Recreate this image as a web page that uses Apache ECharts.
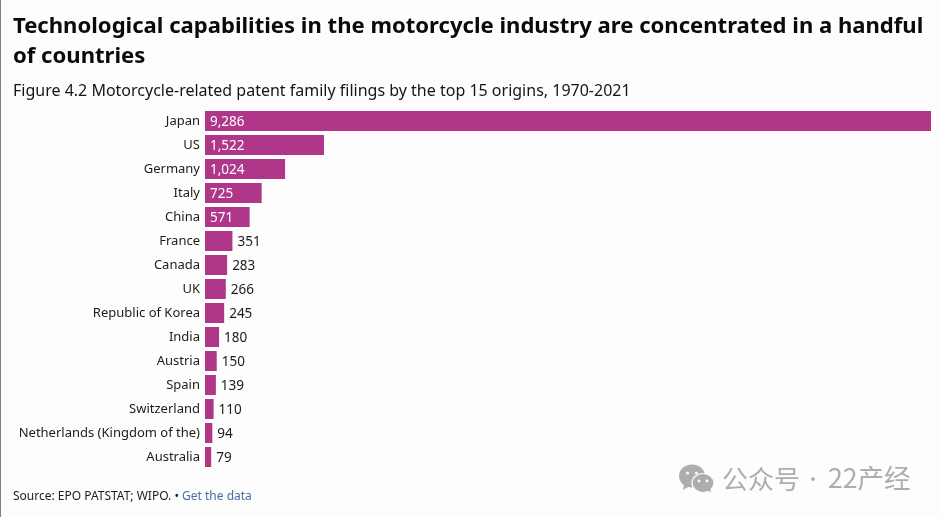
<!DOCTYPE html>
<html><head><meta charset="utf-8">
<script src="https://cdn.jsdelivr.net/npm/echarts@6/dist/echarts.min.js"></script>
<style>html,body{margin:0;padding:0;background:#fdfdfd}#c{width:941px;height:517px}</style>
</head><body><div id="c"></div>
<script>
const categories = ["Japan","US","Germany","Italy","China","France","Canada","UK","Republic of Korea","India","Austria","Spain","Switzerland","Netherlands (Kingdom of the)","Australia"];
const filings = [9286,1522,1024,725,571,351,283,266,245,180,150,139,110,94,79];
const insideCount = 5;
const titleLines = "Technological capabilities in the motorcycle industry are concentrated in a handful\nof countries";
const subtitle = "Figure 4.2 Motorcycle-related patent family filings by the top 15 origins, 1970-2021";
const font = '"Noto Sans"';
const cjk = '"Noto Sans CJK SC"';
const chart = echarts.init(document.getElementById('c'), null, {renderer:'canvas'});
chart.setOption({
  backgroundColor:'#fdfdfd',
  animation:false,
  textStyle:{fontFamily:font},
  title:[
    {text:titleLines,left:13,top:12,padding:0,textStyle:{fontFamily:font,fontSize:22.08,fontWeight:700,color:'#0a0a0a',lineHeight:30}},
    {text:subtitle,left:13,top:80,padding:0,textStyle:{fontFamily:font,fontSize:16,fontWeight:400,color:'#151515',lineHeight:22}}
  ],
  grid:{left:205,top:109,width:726,height:360,containLabel:false},
  xAxis:{type:'value',min:0,max:9286,show:false},
  yAxis:{type:'category',inverse:true,data:categories,
    axisLine:{show:false},axisTick:{show:false},
    axisLabel:{fontFamily:font,fontSize:13,color:'#1c1c1c',margin:5}},
  series:[{type:'bar',barWidth:20,
    itemStyle:{color:'#b0368a'},
    data:filings.map((v,i)=>({value:v,label:i<insideCount
      ?{show:true,position:'insideLeft',distance:5,color:'#ffffff',offset:[0,1]}
      :{show:true,position:'right',distance:5,color:'#1c1c1c',offset:[0,1]}})),
    label:{fontFamily:font,fontSize:13.5,formatter:p=>p.value.toLocaleString('en-US')}
  }],
  graphic:[
    {type:'rect',left:0,top:0,shape:{width:1,height:517},style:{fill:'#808080'}},
    {type:'text',left:13,top:491,style:{
      text:'{a|Source: EPO PATSTAT; WIPO. • }{b|Get the data}',
      rich:{a:{fontFamily:font,fontSize:12,fill:'#1c1c1c'},b:{fontFamily:font,fontSize:12,fill:'#4a6ba5'}}}},
    {type:'ellipse',shape:{cx:692,cy:476,rx:13,ry:11.5},style:{fill:'#adadad'}},
    {type:'polygon',shape:{points:[[684,484],[683,490],[690,486]]},style:{fill:'#adadad'}},
    {type:'circle',shape:{cx:687.5,cy:473,r:1.6},style:{fill:'#fdfdfd'}},
    {type:'circle',shape:{cx:696.5,cy:473,r:1.6},style:{fill:'#fdfdfd'}},
    {type:'ellipse',shape:{cx:703,cy:483,rx:11,ry:9.5},style:{fill:'#adadad',stroke:'#fdfdfd',lineWidth:1.2}},
    {type:'polygon',shape:{points:[[706,490],[711,492],[710,487]]},style:{fill:'#adadad'}},
    {type:'circle',shape:{cx:699,cy:481,r:1.4},style:{fill:'#fdfdfd'}},
    {type:'circle',shape:{cx:707,cy:481,r:1.4},style:{fill:'#fdfdfd'}},
    {type:'text',left:722,top:466,style:{text:'公众号',fontFamily:cjk,fontSize:26,fill:'#adadad'}},
    {type:'text',left:804,top:470,style:{text:'·',fontFamily:cjk,fontSize:18,fill:'#adadad'}},
    {type:'text',left:828,top:465,style:{text:'22产经',fontFamily:cjk,fontSize:26.6,fill:'#adadad'}}
  ]
});
</script></body></html>
